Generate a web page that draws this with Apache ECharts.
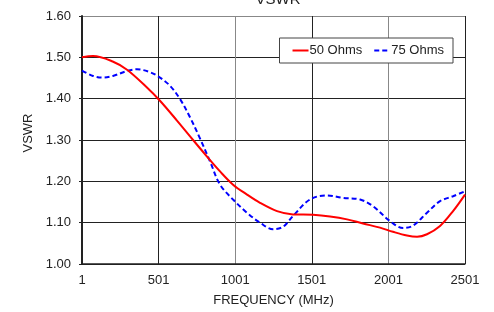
<!DOCTYPE html>
<html>
<head>
<meta charset="utf-8">
<script src="https://cdn.jsdelivr.net/npm/echarts@6/dist/echarts.min.js"></script>
<style>
  html, body { margin: 0; padding: 0; background: #fff; }
  #chart { width: 494px; height: 312px; }
</style>
</head>
<body>
<div id="chart"></div>
<script>
'use strict';
// frequency (MHz) / VSWR pairs
var freq50 = [1, 73, 201, 295, 425, 510, 621, 726, 817, 902, 987, 1078, 1163, 1274, 1378, 1509, 1620, 1731, 1835, 1946, 2031, 2122, 2188, 2253, 2338, 2423, 2501];
var vswr50 = [1.500, 1.503, 1.490, 1.470, 1.427, 1.395, 1.347, 1.300, 1.260, 1.224, 1.192, 1.168, 1.148, 1.128, 1.120, 1.119, 1.115, 1.108, 1.098, 1.088, 1.078, 1.069, 1.066, 1.072, 1.092, 1.128, 1.168];

var freq75 = [1, 73, 138, 203, 295, 360, 445, 510, 576, 641, 706, 771, 837, 902, 987, 1078, 1163, 1248, 1313, 1378, 1489, 1600, 1705, 1816, 1900, 2011, 2097, 2162, 2253, 2338, 2423, 2501];
var vswr75 = [1.468, 1.455, 1.451, 1.455, 1.467, 1.471, 1.464, 1.451, 1.431, 1.399, 1.355, 1.304, 1.248, 1.192, 1.156, 1.124, 1.100, 1.084, 1.090, 1.116, 1.156, 1.166, 1.160, 1.156, 1.140, 1.104, 1.087, 1.093, 1.124, 1.152, 1.164, 1.176];

var seriesNames = ['50 Ohms', '75 Ohms'];

function pairs(xs, ys) {
	var out = [];
	for (var i = 0; i < xs.length; i++) {
		out.push([xs[i], ys[i]]);
	}
	return out;
}

var font = 'Liberation Sans, Arial, sans-serif';

var option = {
	animation: false,
	title: {
		text: 'VSWR',
		left: 273,
		top: -13,
		textAlign: 'center',
		textStyle: { fontFamily: font, fontSize: 15, fontWeight: 'normal', color: '#222' }
	},
	legend: {
		data: seriesNames,
		right: 41,
		top: 38,
		orient: 'horizontal',
		backgroundColor: '#fff',
		borderColor: '#444',
		borderWidth: 1,
		padding: [6, 9, 6, 12],
		itemWidth: 16,
		itemHeight: 10,
		itemGap: 11,
		itemStyle: { opacity: 0 }, // hide the marker dot, keep the line
		textStyle: { fontFamily: font, fontSize: 13, color: '#222', padding: [0, 0, 0, -4] }
	},
	grid: {
		left: 82,
		right: 29,
		top: 16,
		bottom: 45
	},
	xAxis: {
		type: 'value',
		min: 1,
		max: 2501,
		interval: 500,
		name: 'FREQUENCY (MHz)',
		nameLocation: 'middle',
		nameGap: 30,
		nameTextStyle: { fontFamily: font, fontSize: 13, color: '#222' },
		axisLine: { lineStyle: { color: '#222', width: 1.5 } },
		axisTick: { show: false },
		axisLabel: {
			fontFamily: font, fontSize: 13, color: '#222', margin: 10,
			formatter: function (v) { return String(v); }
		},
		splitLine: { show: true, lineStyle: { color: ['#222', '#222', '#888', '#222', '#888', '#222'], width: 1 } }
	},
	yAxis: {
		type: 'value',
		min: 1,
		max: 1.6,
		interval: 0.1,
		name: 'VSWR',
		nameLocation: 'middle',
		nameGap: 44,
		nameTextStyle: { fontFamily: font, fontSize: 13, color: '#222', padding: [0, 0, 0, 14] },
		axisLine: { show: true, lineStyle: { color: '#222', width: 2 } },
		axisTick: { show: true, length: 3, lineStyle: { color: '#222' } },
		axisLabel: {
			fontFamily: font, fontSize: 13, color: '#222', margin: 11,
			formatter: function (v) { return v.toFixed(2); }
		},
		splitLine: { show: true, lineStyle: { color: ['#222', '#222', '#222', '#222', '#222', '#222', '#888'], width: 1 } }
	},
	series: [
		{
			name: seriesNames[0],
			type: 'line',
			data: pairs(freq50, vswr50),
			smooth: 0.35,
			symbol: 'none',
			lineStyle: { color: '#ff0000', width: 2 },
			itemStyle: { color: '#ff0000' },
			z: 3
		},
		{
			name: seriesNames[1],
			type: 'line',
			data: pairs(freq75, vswr75),
			smooth: 0.35,
			symbol: 'none',
			lineStyle: { color: '#0000ff', width: 2, type: [5, 3] },
			itemStyle: { color: '#0000ff' },
			z: 2
		}
	]
};

var chart = echarts.init(document.getElementById('chart'));
chart.setOption(option);
</script>
</body>
</html>
